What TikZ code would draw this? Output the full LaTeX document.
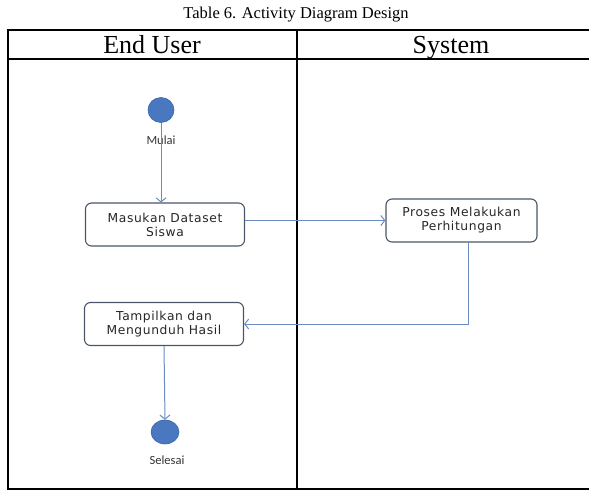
\documentclass[tikz,border=0pt]{standalone}
\usepackage{fontspec}
\setmainfont{Liberation Serif}
\newfontfamily\boxfont[LetterSpace=5]{DejaVu Sans}
\newfontfamily\lblfont{Carlito}
\usepackage{xcolor}
\usetikzlibrary{arrows.meta,positioning,calc,shapes.geometric}
\definecolor{flowline}{HTML}{6A8CC0}
\definecolor{nodefill}{HTML}{4A78C0}
\definecolor{nodeedge}{HTML}{3A64A8}
\definecolor{boxedge}{HTML}{4A5668}
\begin{document}
\begin{tikzpicture}[x=1pt, y=-1pt,
  every node/.style={inner sep=0pt},
  actbox/.style={draw=boxedge, line width=1.1pt, rounded corners=6pt, minimum width=159pt, minimum height=43pt, align=center, text=black!85, font=\boxfont\fontsize{12.3}{14}\selectfont},
  terminal/.style={draw=nodeedge, fill=nodefill, line width=0.6pt, ellipse, minimum width=26pt, minimum height=25pt},
  termlbl/.style={text=black!80, font=\lblfont\fontsize{12.5}{13}\selectfont},
  lanehead/.style={anchor=base, font=\fontsize{26}{28}\selectfont},
  flow/.style={draw=flowline, line width=1pt, -{Straight Barb[length=4pt, width=10pt]}}]
\useasboundingbox (0,0) rectangle (589,490);
% table frame
\draw[line width=2pt] (8,30) rectangle (600,489);
\draw[line width=2pt] (8,59) -- (600,59);
\draw[line width=2pt] (297,30) -- (297,489);
\node[anchor=base] (cap) at (296,18) {\fontsize{16.5}{18}\selectfont Table 6. Activity Diagram Design};
\node[lanehead] (user) at (152,53) {End User};
\node[lanehead] (sys) at (451,53) {System};

% activities
\node[terminal] (start) at (161,110) {};
\node[termlbl] (startlbl) at (161,140) {Mulai};
\node[actbox] (inp) at (165,224.5) {Masukan Dataset\\Siswa};
\node[actbox, minimum width=151pt] (calc) at (461.5,220.5) {Proses Melakukan\\Perhitungan};
\node[actbox] (show) at (164,324) {Tampilkan dan\\Mengunduh Hasil};
\node[terminal, minimum width=28pt, minimum height=24pt] (stop) at (165,432) {};
\node[termlbl] (stoplbl) at (167,460) {Selesai};

\draw[flow] (start) -- (start |- inp.north);
\draw[flow] (inp.east |- calc) -- (calc.west);
\draw[flow] ([xshift=7pt]calc.south) |- (show.east);
\draw[flow] (show.south) -- (stop.north);
\end{tikzpicture}
\end{document}
